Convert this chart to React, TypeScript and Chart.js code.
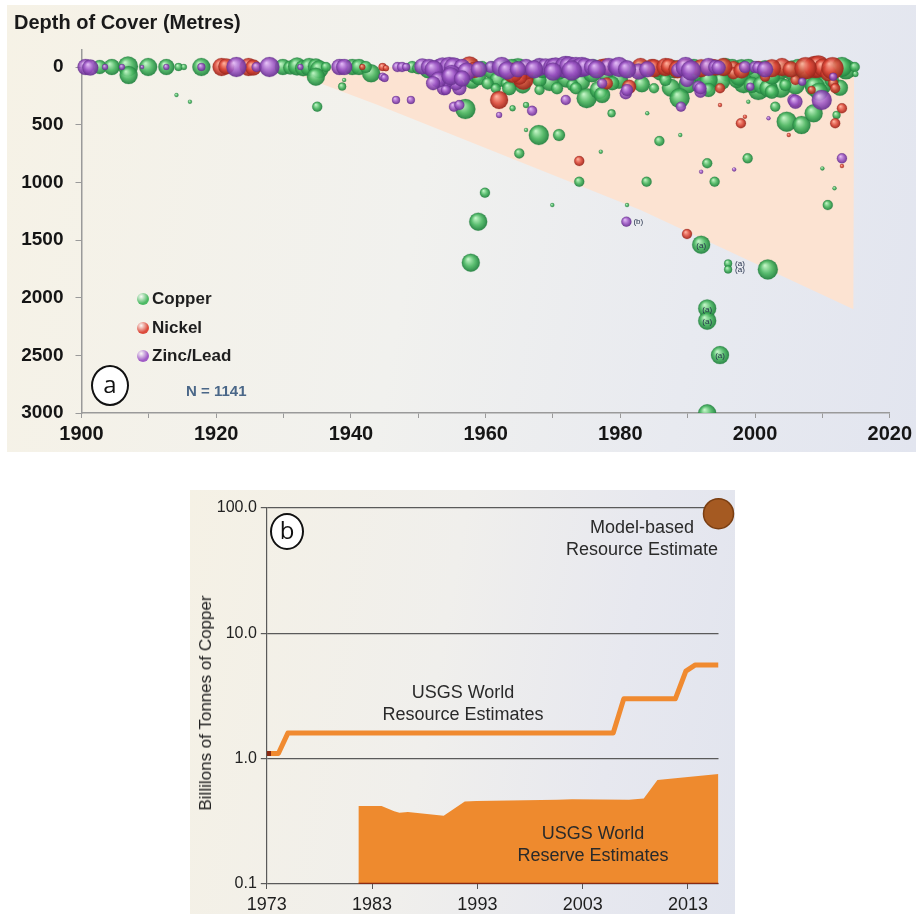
import React, { useEffect, useRef } from 'react';
import { Chart, registerables } from 'chart.js';

Chart.register(...registerables);

const FONT = "'Liberation Sans', Arial, Helvetica, sans-serif";

// ---------- Panel (a): depth of cover vs discovery year ----------
// [year, depth (m), bubble radius (px)]
const copperDeposits: [number, number, number][] = [
  [1902.7, 0, 7], [1904.5, 0, 8], [1906.9, -5, 10], [1907.0, 70, 9], [1909.9, 0, 9], [1912.6, 0, 8],
  [1914.4, 0, 4], [1915.2, 0, 3], [1917.8, 0, 9], [1914.1, 243, 2], [1916.1, 301, 2],
  [1929.9, 0, 8], [1931.0, 5, 7], [1932.0, -5, 9], [1932.9, 10, 8], [1933.8, 0, 9], [1934.8, -5, 8],
  [1935.3, 20, 9], [1934.8, 84, 9], [1935.0, 344, 5], [1936.3, 0, 5], [1938.7, 170, 4], [1939.0, 113, 2],
  [1940.2, 0, 8], [1941.2, 0, 8], [1943.0, 55, 9], [1942.2, 0, 6], [1949.1, 0, 6], [1950.0, 10, 6],
  [1951.5, 20, 9], [1955.0, 40, 8], [1958.0, 10, 9], [1961.0, 30, 9], [1962.8, 20, 9], [1964.8, 10, 10],
  [1967.0, 30, 9], [1969.2, 20, 9], [1971.0, 20, 9], [1976.0, 10, 9], [1979.0, 20, 9], [1980.5, 30, 8],
  [1983.0, 20, 9], [1986.0, 40, 9], [1988.0, 20, 9], [1991.5, 40, 10], [1993.8, 30, 9], [1996.0, 40, 10],
  [1998.0, 20, 10], [2000.2, 40, 10], [2001.5, 20, 9], [2003.3, 40, 10], [2005.5, 30, 10], [2007.5, 40, 10],
  [2010.5, 30, 9], [2013.5, 20, 10],
  [1958.0, 120, 8], [1961.8, 110, 8], [1965.5, 160, 8], [1969.5, 130, 9], [1972.0, 100, 9], [1974.3, 130, 8],
  [1979.8, 110, 9], [1983.2, 150, 8], [1987.5, 180, 9], [1990.0, 150, 9], [1992.5, 160, 9], [1995.0, 120, 9],
  [1998.3, 140, 10], [2000.5, 200, 10], [2003.8, 180, 10], [2006.0, 160, 9], [2010.0, 160, 9], [2012.6, 180, 8],
  [1957.0, 365, 10], [1958.5, 69, 8], [1959.0, 97, 7], [1959.5, 0, 6], [1960.3, 142, 6], [1961.5, 185, 5],
  [1963.0, 142, 5], [1963.5, 184, 7], [1963.9, 0, 8], [1964.0, 358, 3], [1966.0, 330, 3], [1966.0, 546, 2],
  [1967.9, 0, 8], [1968.0, 113, 7], [1968.4, 26, 8], [1968.0, 199, 5], [1967.9, 590, 10], [1970.9, 590, 6],
  [1965.0, 749, 5], [1970.6, 184, 6], [1970.9, 40, 8], [1972.9, 156, 6], [1973.4, 184, 6], [1973.9, 26, 7],
  [1975.0, 270, 10], [1975.8, 55, 9], [1976.8, 199, 9], [1977.3, 243, 8], [1977.8, 70, 7], [1978.8, 141, 7],
  [1978.7, 402, 4], [1977.1, 734, 2], [1973.9, 995, 5], [1969.9, 1197, 2], [1959.9, 1090, 5], [1958.9, 1341, 9],
  [1957.8, 1697, 9], [1981.0, 1197, 2], [1984.0, 402, 2], [1985.0, 185, 5], [1985.7, 26, 7], [1986.7, 113, 6],
  [1987.2, 0, 7], [1985.8, 642, 5], [1983.9, 995, 5], [1988.8, 270, 10], [1988.9, 590, 2], [1990.9, 0, 8],
  [1993.1, 113, 9], [1993.1, 199, 7], [1995.6, 0, 9], [1992.9, 835, 5], [1994.0, 995, 5], [1998.9, 792, 5],
  [1999.0, 301, 2], [1996.6, 0, 8], [1997.3, 113, 8], [1997.6, 84, 9], [1999.0, 0, 8], [1999.5, 156, 8],
  [2001.0, 156, 9], [2002.0, 184, 9], [2002.5, 84, 8], [2002.5, 214, 7], [2003.0, 344, 5], [2004.5, 26, 7],
  [2004.5, 156, 6], [2004.7, 474, 10], [2006.9, 503, 9], [2006.4, 0, 8], [2008.4, 142, 8], [2008.9, 171, 10],
  [2009.5, 214, 9], [2008.7, 402, 9], [2010.0, 879, 2], [2011.8, 1052, 2], [2010.8, 1197, 5], [2011.4, 113, 7],
  [2011.9, 171, 4], [2012.1, 416, 4], [2012.9, 0, 10], [2014.8, 0, 5], [2014.9, 60, 3],
  [1992.0, 1541, 9], [1996.0, 1703, 4], [1996.0, 1755, 4], [2001.9, 1755, 10], [1992.9, 2093, 9],
  [1992.9, 2200, 9], [1994.8, 2498, 9], [1992.9, 3003, 9],
];

const nickelDeposits: [number, number, number][] = [
  [1920.8, 0, 9], [1921.5, -5, 8], [1924.8, 0, 9], [1925.5, 5, 8], [1941.7, 0, 3], [1944.7, 0, 4],
  [1945.2, 10, 3], [1952.0, -10, 5], [1957.6, -5, 10], [1958.3, 26, 8], [1962.0, 286, 9], [1965.6, 110, 10],
  [1966.0, 40, 8], [1965.0, 84, 8], [1973.9, 815, 5], [1977.3, 0, 8], [1977.8, -5, 8], [1978.0, 142, 6],
  [1981.3, 171, 7], [1984.7, 0, 8], [1985.0, 10, 9], [1986.7, 0, 9], [1987.2, -5, 8], [1989.7, 0, 8],
  [1989.9, 1448, 5], [1993.6, 0, 8], [1994.1, 5, 8], [1994.8, 184, 5], [1994.8, 330, 2], [1996.8, 0, 6],
  [1996.8, 55, 6], [1997.9, 488, 5], [1998.5, 431, 2], [2000.5, 0, 6], [2001.5, 84, 5], [2004.0, 0, 9],
  [2005.0, 590, 2], [2006.0, 113, 5], [2006.0, 315, 4], [2008.4, 199, 4], [2008.9, 0, 11], [2009.4, -5, 11],
  [2010.1, 5, 9], [2010.9, 55, 8], [2011.6, 142, 5], [2011.9, 184, 5], [2011.9, 488, 5], [2012.9, 358, 5],
  [2012.9, 859, 2],
  [1983.0, 0, 9], [1988.5, 20, 9], [1992.0, 10, 9], [1995.3, 0, 9], [1998.0, 30, 8], [2002.5, 10, 9],
  [2005.3, 20, 8], [2007.5, 10, 11], [2011.5, 10, 11], [1964.0, 50, 10],
];

const zincLeadDeposits: [number, number, number][] = [
  [1900.6, 0, 8], [1901.3, 5, 8], [1903.5, 0, 3], [1906.0, 0, 3], [1909.0, 0, 2], [1912.6, 0, 3],
  [1917.8, 0, 4], [1923.0, 0, 10], [1926.0, 0, 5], [1927.9, 0, 10], [1932.5, 0, 3], [1938.3, 0, 8],
  [1939.0, 0, 8], [1944.7, 84, 4], [1945.0, 95, 4], [1946.7, 286, 4], [1948.9, 286, 4], [1946.9, 0, 5],
  [1947.6, 0, 5], [1948.2, 0, 4], [1950.6, -5, 8], [1951.6, 0, 8], [1953.1, 0, 8], [1953.6, -5, 9],
  [1954.6, 0, 10], [1955.3, 5, 10], [1956.5, 0, 8], [1953.8, 184, 7], [1956.1, 184, 7], [1955.6, 142, 7],
  [1954.3, 127, 6], [1954.1, 199, 5], [1955.3, 344, 5], [1956.1, 330, 5], [1960.8, 0, 6], [1962.4, 0, 10],
  [1962.0, 416, 3], [1966.0, 0, 8], [1966.9, 380, 5], [1968.0, 0, 9], [1968.9, -5, 8], [1969.9, 0, 9],
  [1970.4, 5, 10], [1971.9, 0, 11], [1972.4, -5, 10], [1971.9, 286, 5], [1973.4, 0, 10], [1973.6, 10, 9],
  [1974.3, 0, 10], [1974.8, 0, 9], [1975.8, 0, 8], [1977.3, 142, 5], [1978.3, 0, 9], [1979.3, -5, 8],
  [1979.8, 0, 10], [1980.8, 228, 6], [1981.0, 199, 6], [1982.7, 40, 8], [1980.9, 1341, 5], [1988.6, 26, 7],
  [1989.7, 0, 10], [1989.9, 113, 7], [1989.0, 344, 5], [1991.6, 171, 6], [1991.9, 214, 6], [1991.9, 184, 6],
  [1992.0, 908, 2], [1993.1, 0, 9], [1994.1, 0, 7], [1994.6, 5, 7], [1996.9, 888, 2], [1998.5, 0, 6],
  [1999.3, 171, 4], [2000.0, 0, 6], [2000.5, 5, 6], [2002.0, 445, 2], [2005.7, 286, 6], [2006.0, 301, 7],
  [2007.0, 127, 4], [2009.9, 286, 10], [2011.6, 84, 4], [2012.9, 792, 5],
  [1952.3, 20, 9], [1955.0, 60, 9], [1957.2, 40, 9], [1959.0, 20, 8], [1963.2, 30, 9], [1964.8, 20, 8],
  [1967.2, 20, 9], [1970.0, 40, 9], [1972.8, 30, 10], [1976.5, 20, 9], [1981.0, 20, 9], [1984.0, 20, 8],
  [1990.5, 30, 10], [2001.5, 20, 8],
  [1953.0, 110, 8], [1954.8, 80, 9], [1956.5, 100, 8], [1952.2, 140, 7],
];

// shaded "increasing depth" wedge
const wedgeYears = [1929, 1944, 1983, 2014.6, 2014.7];
const wedgeDepths = [0, 330, 1240, 2100, 0];

const depthTicks = [0, 500, 1000, 1500, 2000, 2500, 3000];
const yearTicks = [1900, 1910, 1920, 1930, 1940, 1950, 1960, 1970, 1980, 1990, 2000, 2010, 2020];

const tagNotes = [
  { year: 1992.0, depth: 1541, text: '(a)', inside: true },
  { year: 1996.0, depth: 1703, text: '(a)', inside: false },
  { year: 1996.0, depth: 1755, text: '(a)', inside: false },
  { year: 1992.9, depth: 2093, text: '(a)', inside: true },
  { year: 1992.9, depth: 2200, text: '(a)', inside: true },
  { year: 1994.8, depth: 2498, text: '(a)', inside: true },
  { year: 1980.9, depth: 1341, text: '(b)', inside: false },
];

const legendItems = [
  { label: 'Copper', color: '#4dba64' },
  { label: 'Nickel', color: '#dc4b3c' },
  { label: 'Zinc/Lead', color: '#a05cc6' },
];

// ---------- Panel (b): copper resources ----------
const resourceYears = [1973, 1974.1, 1975.0, 2005.9, 2006.9, 2011.8, 2012.8, 2013.7, 2015.9];
const resourceValues = [1.1, 1.1, 1.6, 1.6, 3.0, 3.0, 5.0, 5.6, 5.6];
const reserveYears = [1981.7, 1983.9, 1985.1, 1985.6, 1986.4, 1989.8, 1991.8, 1992.9, 2000.6, 2002.0, 2007.4, 2008.8, 2010.1, 2015.9];
const reserveValues = [0.42, 0.42, 0.38, 0.37, 0.375, 0.35, 0.455, 0.46, 0.47, 0.475, 0.47, 0.48, 0.675, 0.755];
const modelYear = [2015.9];
const modelValue = [90];
const logTicks = [0.1, 1, 10, 100];
const panelBYearTicks = [1973, 1983, 1993, 2003, 2013];

function sphere(base: string, light: string, dark: string) {
  return (ctx: any) => {
    const raw = ctx.raw;
    const chart = ctx.chart;
    if (!raw || !chart || !chart.scales || !chart.scales.x) return base;
    const x = chart.scales.x.getPixelForValue(raw.x);
    const y = chart.scales.y.getPixelForValue(raw.y);
    const r = raw.r || 3;
    if (!isFinite(x) || !isFinite(y)) return base;
    const g = chart.ctx.createRadialGradient(x - r * 0.3, y - r * 0.4, r * 0.05, x, y, r * 1.05);
    g.addColorStop(0, light);
    g.addColorStop(0.55, base);
    g.addColorStop(1, dark);
    return g;
  };
}

const tagPlugin = {
  id: 'tagNotes',
  afterDatasetsDraw(chart: any) {
    const { ctx, scales } = chart;
    ctx.save();
    ctx.font = `8px ${FONT}`;
    ctx.fillStyle = '#24304a';
    ctx.textBaseline = 'middle';
    for (const t of tagNotes) {
      const x = scales.x.getPixelForValue(t.year);
      const y = scales.y.getPixelForValue(t.depth);
      if (t.inside) {
        ctx.textAlign = 'center';
        ctx.fillText(t.text, x, y + 1);
      } else {
        ctx.textAlign = 'left';
        ctx.fillText(t.text, x + 7, y);
      }
    }
    ctx.restore();
  },
};

function DepthChart() {
  const ref = useRef<HTMLCanvasElement | null>(null);
  useEffect(() => {
    if (!ref.current) return;
    const toPts = (arr: [number, number, number][]) => arr.map(([x, y, r]) => ({ x, y, r }));
    const clip = { left: 12, top: 12, right: 12, bottom: 0 };
    const chart = new Chart(ref.current, {
      type: 'bubble',
      data: {
        datasets: [
          {
            label: 'Copper',
            data: toPts(copperDeposits),
            backgroundColor: sphere('rgba(72,182,96,0.9)', 'rgba(190,245,195,0.95)', 'rgba(30,125,60,0.95)'),
            borderColor: 'rgba(40,130,65,0.45)',
            borderWidth: 0.5,
            order: 3,
            clip,
          } as any,
          {
            label: 'Nickel',
            data: toPts(nickelDeposits),
            backgroundColor: sphere('rgba(218,70,55,0.88)', 'rgba(255,175,155,0.95)', 'rgba(150,35,25,0.95)'),
            borderColor: 'rgba(150,40,30,0.45)',
            borderWidth: 0.5,
            order: 2,
            clip,
          } as any,
          {
            label: 'Zinc/Lead',
            data: toPts(zincLeadDeposits),
            backgroundColor: sphere('rgba(155,85,195,0.88)', 'rgba(225,185,245,0.95)', 'rgba(100,45,140,0.95)'),
            borderColor: 'rgba(100,50,140,0.45)',
            borderWidth: 0.5,
            order: 1,
            clip,
          } as any,
          {
            type: 'line',
            label: 'wedge',
            data: wedgeYears.map((x, i) => ({ x, y: wedgeDepths[i] })),
            fill: { value: 0 },
            backgroundColor: '#fce3d2',
            borderWidth: 0,
            pointRadius: 0,
            tension: 0,
            order: 10,
          } as any,
        ],
      },
      options: {
        animation: false,
        responsive: false,
        devicePixelRatio: 1,
        layout: { padding: { top: 44.7, right: 24.5, left: 0, bottom: 0 } },
        plugins: { legend: { display: false }, tooltip: { enabled: false } },
        scales: {
          x: {
            type: 'linear',
            min: 1900,
            max: 2020,
            afterBuildTicks: (s: any) => { s.ticks = yearTicks.map((v) => ({ value: v })); },
            afterFit: (s: any) => { s.height = 39; },
            ticks: {
              autoSkip: false,
              maxRotation: 0,
              callback: (v: any) => (Number(v) % 20 === 0 ? String(v) : ''),
              font: { family: FONT, size: 20, weight: 'bold' },
              color: '#151515',
              padding: 4,
            },
            grid: { drawOnChartArea: false, tickLength: 5, color: '#9a9a9a' },
            border: { color: '#9a9a9a', width: 1.5 },
          },
          y: {
            type: 'linear',
            reverse: true,
            min: -150,
            max: 3000,
            afterBuildTicks: (s: any) => { s.ticks = depthTicks.map((v) => ({ value: v })); },
            afterFit: (s: any) => { s.width = 74.5; },
            ticks: {
              autoSkip: false,
              callback: (v: any) => String(v),
              font: { family: FONT, size: 19, weight: 'bold' },
              color: '#151515',
              padding: 12,
            },
            grid: { drawOnChartArea: false, tickLength: 6, color: '#9a9a9a' },
            border: { color: '#9a9a9a', width: 1.5 },
          },
        },
      } as any,
      plugins: [tagPlugin],
    });
    return () => chart.destroy();
  }, []);
  return <canvas ref={ref} width={909} height={447} style={{ display: 'block', width: 909, height: 447 }} />;
}

function ResourceChart() {
  const ref = useRef<HTMLCanvasElement | null>(null);
  useEffect(() => {
    if (!ref.current) return;
    const chart = new Chart(ref.current, {
      type: 'line',
      data: {
        datasets: [
          {
            label: 'Model-based Resource Estimate',
            data: modelYear.map((x, i) => ({ x, y: modelValue[i] })),
            showLine: false,
            pointRadius: 15,
            pointBackgroundColor: '#a55a22',
            pointBorderColor: '#7a3e12',
            pointBorderWidth: 1.5,
            clip: false,
            order: 0,
          } as any,
          {
            label: 'USGS World Resource Estimates',
            data: resourceYears.map((x, i) => ({ x, y: resourceValues[i] })),
            borderColor: '#f08a30',
            borderWidth: 5,
            borderJoinStyle: 'round',
            pointRadius: 0,
            tension: 0,
            fill: false,
            order: 1,
          } as any,
          {
            label: 'start',
            data: [{ x: resourceYears[0], y: resourceValues[0] }, { x: resourceYears[0] + 0.4, y: resourceValues[0] }],
            borderColor: '#8a2a12',
            borderWidth: 5,
            pointRadius: 0,
            fill: false,
            order: 0,
          } as any,
          {
            label: 'USGS World Reserve Estimates',
            data: reserveYears.map((x, i) => ({ x, y: reserveValues[i] })),
            borderColor: '#ee8a2e',
            borderWidth: 0,
            backgroundColor: '#ee8a2e',
            pointRadius: 0,
            tension: 0,
            fill: 'start',
            order: 3,
          } as any,
          {
            label: 'base',
            data: [{ x: reserveYears[0], y: logTicks[0] }, { x: reserveYears[reserveYears.length - 1], y: logTicks[0] }],
            borderColor: '#8a2a12',
            borderWidth: 2.5,
            pointRadius: 0,
            fill: false,
            order: 2,
          } as any,
        ],
      },
      options: {
        animation: false,
        responsive: false,
        devicePixelRatio: 1,
        layout: { padding: { top: 18, right: 16, left: 0, bottom: 0 } },
        plugins: { legend: { display: false }, tooltip: { enabled: false } },
        scales: {
          x: {
            type: 'linear',
            min: 1973,
            max: 2015.9,
            afterBuildTicks: (s: any) => { s.ticks = panelBYearTicks.map((v) => ({ value: v })); },
            afterFit: (s: any) => { s.height = 30; },
            ticks: {
              autoSkip: false,
              maxRotation: 0,
              callback: (v: any) => String(v),
              font: { family: FONT, size: 18 },
              color: '#1e1e1e',
              padding: 5,
            },
            grid: { drawOnChartArea: false, tickLength: 5, color: '#555' },
            border: { display: false },
          },
          y: {
            type: 'logarithmic',
            min: 0.1,
            max: 100,
            afterBuildTicks: (s: any) => { s.ticks = logTicks.map((v) => ({ value: v })); },
            afterFit: (s: any) => { s.width = 76.8; },
            ticks: {
              autoSkip: false,
              callback: (v: any) => Number(v).toFixed(1),
              font: { family: FONT, size: 16 },
              color: '#222',
              padding: 4,
            },
            grid: { color: '#5a5a5a', lineWidth: 1.2, tickLength: 6 },
            border: { color: '#5a5a5a', width: 1.2 },
          },
        },
      } as any,
    });
    return () => chart.destroy();
  }, []);
  return <canvas ref={ref} width={545} height={424} style={{ display: 'block', width: 545, height: 424 }} />;
}

const abs = (left: number, top: number, extra: React.CSSProperties = {}): React.CSSProperties => ({
  position: 'absolute',
  left,
  top,
  ...extra,
});

function CircleTag({ letter, cx, cy, r }: { letter: string; cx: number; cy: number; r: number }) {
  return (
    <div
      style={abs(cx - r, cy - r, {
        width: r * 2 - 4,
        height: r * 2 - 4,
        border: '2px solid #111',
        borderRadius: '50%',
        background: '#fff',
        display: 'flex',
        alignItems: 'center',
        justifyContent: 'center',
        fontFamily: "'Open Sans', 'DejaVu Sans', sans-serif",
        fontSize: 24,
        lineHeight: 1,
        color: '#111',
        paddingBottom: 3,
        boxSizing: 'content-box',
      })}
    >
      {letter}
    </div>
  );
}

export default function App() {
  return (
    <div style={{ position: 'absolute', left: 0, top: 0, width: 916, height: 914, fontFamily: FONT }}>
      {/* Panel a */}
      <div
        style={abs(7, 5, {
          width: 909,
          height: 447,
          background: 'linear-gradient(100deg, #f6f2e6 0%, #f1f1ee 45%, #e8eaf0 75%, #e2e5ef 100%)',
        })}
      >
        <DepthChart />
      </div>
      <div style={abs(14, 11, { fontSize: 20, fontWeight: 'bold', color: '#1a1a1a', whiteSpace: 'nowrap' })}>
        Depth of Cover (Metres)
      </div>
      {legendItems.map((it, i) => (
        <div key={it.label} style={abs(137, 289 + i * 28.5, { display: 'flex', alignItems: 'center', whiteSpace: 'nowrap' })}>
          <span
            style={{
              display: 'inline-block',
              width: 12,
              height: 12,
              borderRadius: '50%',
              background: `radial-gradient(circle at 35% 30%, #ffffffaa, ${it.color} 60%)`,
              marginRight: 3,
            }}
          />
          <span style={{ fontSize: 17, fontWeight: 'bold', color: '#1e1e1e' }}>{it.label}</span>
        </div>
      ))}
      <div style={abs(186, 382, { fontSize: 15, fontWeight: 'bold', color: '#4a6788', whiteSpace: 'nowrap' })}>N = 1141</div>
      <CircleTag letter="a" cx={110} cy={384} r={19} />

      {/* Panel b */}
      <div
        style={abs(190, 490, {
          width: 545,
          height: 424,
          background: 'linear-gradient(100deg, #f5f1e5 0%, #f0efec 45%, #e7e8ef 75%, #e1e4ee 100%)',
        })}
      >
        <ResourceChart />
      </div>
      <div
        style={abs(206, 703, {
          transform: 'translate(-50%, -50%) rotate(-90deg)',
          fontSize: 17,
          color: '#222',
          whiteSpace: 'nowrap',
        })}
      >
        Billilons of Tonnes of Copper
      </div>
      <CircleTag letter="b" cx={287} cy={530} r={17} />
      <div style={abs(542, 516, { width: 200, textAlign: 'center', fontSize: 18, color: '#2a2a2a', lineHeight: '22px' })}>
        Model-based
        <br />
        Resource Estimate
      </div>
      <div style={abs(363, 681, { width: 200, textAlign: 'center', fontSize: 18, color: '#2a2a2a', lineHeight: '22px' })}>
        USGS World
        <br />
        Resource Estimates
      </div>
      <div style={abs(493, 822, { width: 200, textAlign: 'center', fontSize: 18, color: '#2a2a2a', lineHeight: '22px' })}>
        USGS World
        <br />
        Reserve Estimates
      </div>
    </div>
  );
}
